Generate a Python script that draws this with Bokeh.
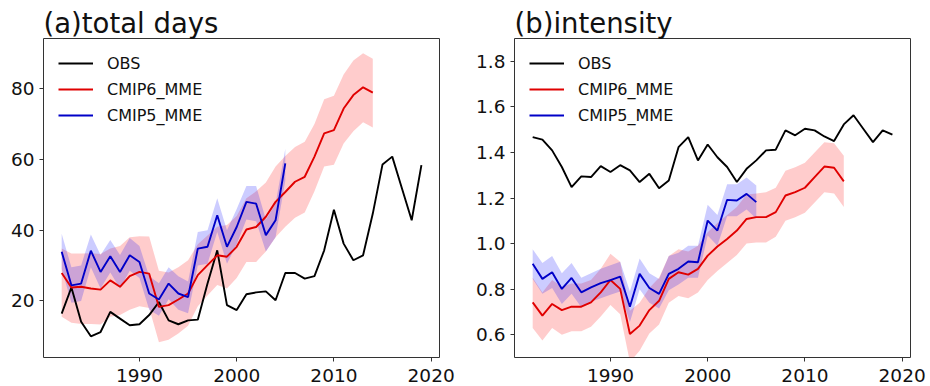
from bokeh.plotting import figure
from bokeh.layouts import row
from bokeh.models import Range1d, FixedTicker, PrintfTickFormatter, Legend, LegendItem
from bokeh.embed import file_html
from bokeh.resources import INLINE

years_obs = list(range(1982, 2020))
years_c6 = list(range(1982, 2015))
years_c5 = list(range(1982, 2006))

# (a) total days
obs_a = [16.4, 23.8, 14.1, 10.0, 11.2, 16.9, 15.0, 13.1, 13.4, 16.0, 19.7, 14.5, 13.4, 14.5, 14.7,
         24.9, 34.3, 18.8, 17.4, 21.9, 22.4, 22.7, 20.2, 27.9, 27.9, 26.3, 27.0, 34.3, 45.8, 36.2,
         31.5, 32.9, 44.7, 58.6, 60.8, 51.8, 42.8, 58.4]
c6_a = [27.9, 23.8, 24.0, 23.5, 23.2, 25.8, 24.0, 27.0, 28.2, 27.7, 18.3, 18.8, 20.4, 22.1, 27.3,
        30.1, 32.9, 32.5, 35.3, 40.2, 40.9, 43.8, 48.0, 50.8, 53.7, 55.1, 60.8, 67.4, 68.3, 74.4,
        78.2, 80.4, 78.9]
c6_a_hi = [34.8, 33.4, 33.4, 33.5, 33.3, 34.8, 35.5, 38.0, 38.3, 38.2, 28.5, 28.0, 29.5, 31.5, 36.0,
           38.5, 41.0, 41.5, 44.0, 49.0, 51.0, 53.5, 58.0, 61.0, 63.5, 65.0, 70.0, 77.0, 78.0, 84.0,
           88.0, 90.0, 88.5]
c6_a_lo = [15.5, 13.8, 13.5, 13.5, 13.3, 15.5, 16.0, 17.5, 18.5, 18.0, 8.3, 9.0, 10.8, 13.0, 18.5,
           21.5, 24.5, 23.5, 26.5, 31.0, 31.0, 34.0, 38.0, 41.0, 43.5, 45.0, 51.0, 58.0, 58.5, 64.5,
           68.0, 70.5, 69.0]
c5_a = [33.9, 24.4, 24.9, 34.2, 28.2, 32.6, 28.2, 32.9, 31.0, 22.1, 20.4, 24.9, 22.1, 21.1, 34.8,
        35.3, 44.2, 35.3, 40.9, 48.0, 47.5, 38.6, 42.8, 58.9]
c5_a_hi = [39.0, 29.5, 30.0, 38.8, 33.0, 37.2, 33.0, 37.8, 35.5, 27.0, 25.0, 29.5, 27.0, 25.5, 39.5,
           40.0, 49.0, 40.0, 46.0, 52.5, 52.5, 43.0, 47.5, 63.0]
c5_a_lo = [29.0, 19.5, 20.0, 29.5, 23.5, 28.0, 23.5, 28.5, 26.5, 17.5, 15.8, 20.5, 17.5, 16.5, 30.0,
           30.5, 39.5, 30.5, 36.0, 43.0, 42.5, 34.0, 38.0, 54.0]

# (b) intensity
obs_b = [1.467, 1.456, 1.409, 1.336, 1.248, 1.295, 1.292, 1.340, 1.314, 1.344, 1.321, 1.270, 1.306,
         1.243, 1.277, 1.423, 1.467, 1.365, 1.435, 1.379, 1.336, 1.270, 1.328, 1.365, 1.409, 1.412,
         1.497, 1.475, 1.504, 1.497, 1.470, 1.450, 1.523, 1.563, 1.504, 1.445, 1.497, 1.478]
c6_b = [0.742, 0.684, 0.735, 0.708, 0.723, 0.723, 0.742, 0.786, 0.840, 0.801, 0.603, 0.640, 0.708,
        0.749, 0.845, 0.874, 0.864, 0.889, 0.947, 0.987, 1.020, 1.057, 1.108, 1.116, 1.116, 1.138,
        1.211, 1.226, 1.245, 1.292, 1.338, 1.333, 1.273]
c6_b_hi = [0.850, 0.785, 0.840, 0.810, 0.825, 0.825, 0.840, 0.890, 0.955, 0.920, 0.705, 0.740, 0.805,
           0.850, 0.945, 0.975, 0.965, 0.990, 1.050, 1.090, 1.125, 1.160, 1.215, 1.220, 1.225, 1.245,
           1.320, 1.335, 1.355, 1.400, 1.445, 1.440, 1.385]
c6_b_lo = [0.630, 0.575, 0.630, 0.600, 0.615, 0.615, 0.635, 0.680, 0.730, 0.690, 0.480, 0.530, 0.605,
           0.645, 0.740, 0.770, 0.760, 0.785, 0.840, 0.880, 0.915, 0.950, 1.000, 1.005, 1.005, 1.030,
           1.100, 1.115, 1.135, 1.180, 1.225, 1.220, 1.160]
c5_b = [0.911, 0.845, 0.874, 0.801, 0.849, 0.786, 0.808, 0.826, 0.840, 0.855, 0.723, 0.867, 0.805,
        0.779, 0.867, 0.889, 0.921, 0.918, 1.101, 1.057, 1.192, 1.189, 1.218, 1.182]
c5_b_hi = [0.975, 0.915, 0.945, 0.870, 0.915, 0.850, 0.870, 0.890, 0.905, 0.920, 0.790, 0.935, 0.870,
           0.845, 0.945, 0.960, 0.990, 0.990, 1.170, 1.125, 1.260, 1.260, 1.290, 1.255]
c5_b_lo = [0.845, 0.780, 0.805, 0.735, 0.780, 0.720, 0.745, 0.760, 0.775, 0.790, 0.655, 0.800, 0.740,
           0.715, 0.795, 0.820, 0.850, 0.850, 1.035, 0.990, 1.120, 1.120, 1.150, 1.110]

x_ticks = [1990, 2000, 2010, 2020]
y_ticks_a = [20, 40, 60, 80]
y_ticks_b = [0.6, 0.8, 1.0, 1.2, 1.4, 1.6, 1.8]
labels = ["OBS", "CMIP6_MME", "CMIP5_MME"]
titles = ["(a)total days", "(b)intensity"]

FONT = "DejaVu Sans"
RED = "#e00000"
BLUE = "#0000c8"


def panel(title, yr, yticks, obs, c6, c6hi, c6lo, c5, c5hi, c5lo, left_border, fmt=None):
    p = figure(width=465, height=386, output_backend="svg", toolbar_location=None,
               x_range=Range1d(1980.13, 2020.86), y_range=yr,
               min_border_left=left_border, min_border_right=465 - left_border - 396,
               min_border_top=38, min_border_bottom=29)
    p.title.text = title
    p.title.text_font = FONT
    p.title.text_font_size = "27.5px"
    p.title.text_font_style = "normal"
    p.title.text_color = "#111111"
    p.title.align = "left"
    p.title.standoff = 0
    p.xgrid.visible = False
    p.ygrid.visible = False
    p.outline_line_color = "#333333"
    p.outline_line_width = 1
    p.background_fill_color = "white"
    p.border_fill_color = "white"
    for ax in (p.xaxis[0], p.yaxis[0]):
        ax.axis_line_color = None
        ax.major_tick_line_color = "#333333"
        ax.major_tick_in = 0
        ax.major_tick_out = 4
        ax.minor_tick_line_color = None
        ax.major_label_text_font = FONT
        ax.major_label_text_font_size = "18.5px"
        ax.major_label_text_color = "#111111"
    p.xaxis.ticker = FixedTicker(ticks=x_ticks)
    p.yaxis.ticker = FixedTicker(ticks=yticks)
    p.xaxis.major_label_standoff = 7
    p.yaxis.major_label_standoff = 5
    if fmt:
        p.yaxis.formatter = PrintfTickFormatter(format=fmt)

    p.varea(x=years_c6, y1=c6lo, y2=c6hi, fill_color="red", fill_alpha=0.2)
    p.varea(x=years_c5, y1=c5lo, y2=c5hi, fill_color="blue", fill_alpha=0.2)
    r_obs = p.line(years_obs, obs, line_color="black", line_width=1.9)
    r6 = p.line(years_c6, c6, line_color=RED, line_width=1.9)
    r5 = p.line(years_c5, c5, line_color=BLUE, line_width=1.9)

    leg = Legend(items=[LegendItem(label=labels[0], renderers=[r_obs]),
                        LegendItem(label=labels[1], renderers=[r6]),
                        LegendItem(label=labels[2], renderers=[r5])],
                 location="top_left", border_line_alpha=0, background_fill_alpha=0,
                 label_text_font=FONT, label_text_font_size="16px", label_text_color="#111111",
                 glyph_width=35, glyph_height=20, label_height=20, spacing=6,
                 label_standoff=14, margin=5, padding=10)
    p.add_layout(leg)
    return p


p1 = panel(titles[0], Range1d(4.0, 94.2), y_ticks_a, obs_a, c6_a, c6_a_hi, c6_a_lo,
           c5_a, c5_a_hi, c5_a_lo, 43)
p2 = panel(titles[1], Range1d(0.5, 1.9), y_ticks_b, obs_b, c6_b, c6_b_hi, c6_b_lo,
           c5_b, c5_b_hi, c5_b_lo, 49, fmt="%.1f")

layout = row(p1, p2, spacing=0)
open("out.html", "w").write(file_html(layout, INLINE))
